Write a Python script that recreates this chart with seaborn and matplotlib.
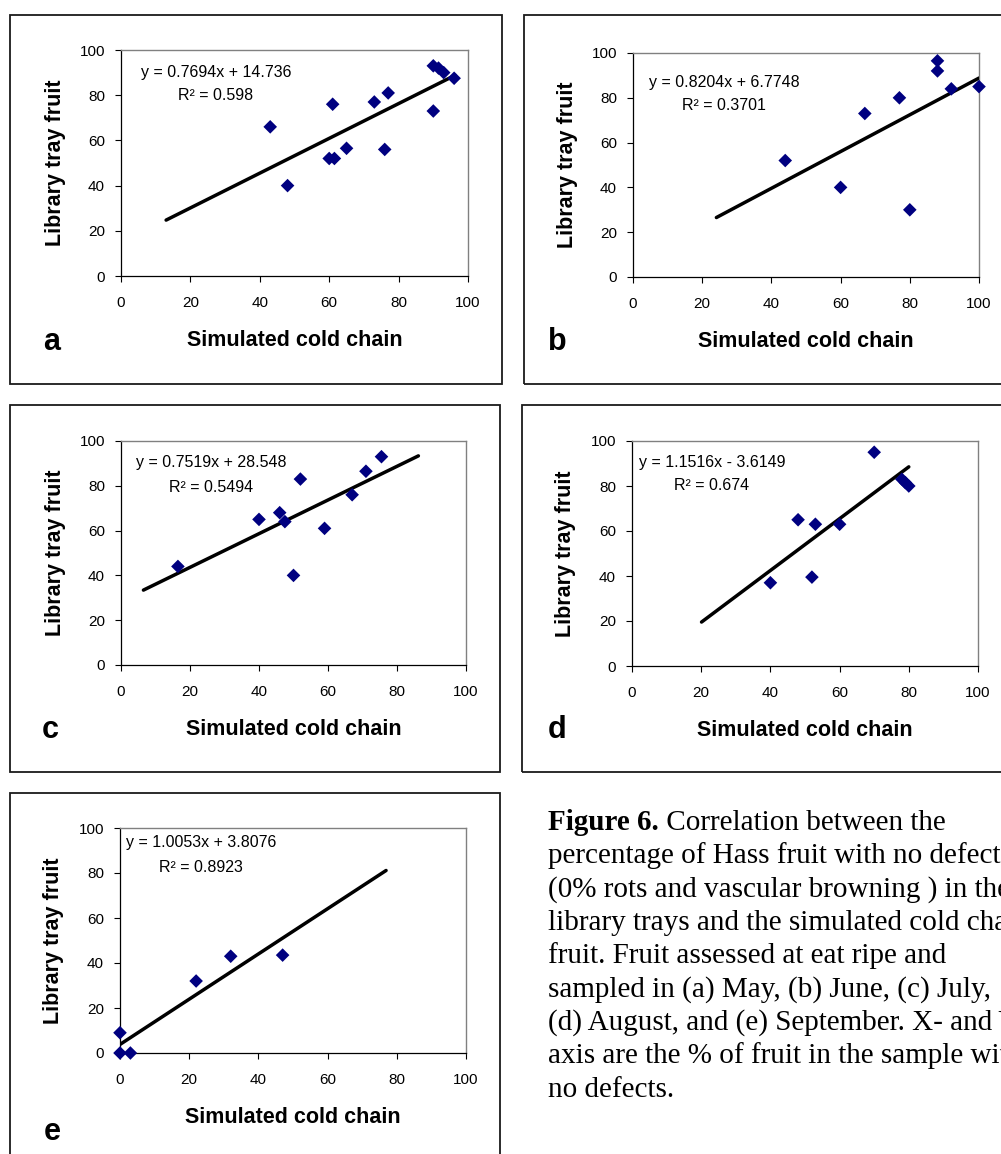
import numpy as np
import pandas as pd
import matplotlib
matplotlib.use("Agg")
import matplotlib.pyplot as plt
import seaborn as sns
from matplotlib.patches import Rectangle

sns.set_theme(style="white")
plt.rcParams["font.family"] = ["Liberation Sans", "DejaVu Sans"]

# ---------------- data ----------------
a_x = [43, 48, 61, 60, 61.5, 65, 73, 77, 76, 90, 90, 91.5, 93, 96]
a_y = [66, 40, 76, 52, 52, 56.5, 77, 81, 56, 73, 93, 92, 90, 87.5]
b_x = [44, 60, 67, 77, 80, 88, 88, 92, 100]
b_y = [52, 40, 73, 80, 30, 96.5, 92, 84, 85]
c_x = [16.5, 40, 46, 47.5, 50, 52, 59, 67, 71, 75.5]
c_y = [44, 65, 68, 64, 40, 83, 61, 76, 86.5, 93]
d_x = [40, 48, 53, 52, 60, 70, 78, 79, 80]
d_y = [37, 65, 63, 39.5, 63, 95, 83, 81.5, 80]
e_x = [0, 0, 3, 22, 32, 47]
e_y = [9, 0, 0, 32, 43, 43.5]

slopes = [0.7694, 0.8204, 0.7519, 1.1516, 1.0053]
intercepts = [14.736, 6.7748, 28.548, -3.6149, 3.8076]
trend_x_start = [13.0, 24.1, 6.5, 20.1, 0.0]
trend_x_end = [96.3, 100.0, 86.2, 80.0, 76.9]
eq_labels = ["y = 0.7694x + 14.736", "y = 0.8204x + 6.7748", "y = 0.7519x + 28.548",
             "y = 1.1516x - 3.6149", "y = 1.0053x + 3.8076"]
r2_labels = ["R\u00b2 = 0.598", "R\u00b2 = 0.3701", "R\u00b2 = 0.5494", "R\u00b2 = 0.674", "R\u00b2 = 0.8923"]
panel_letters = ["a", "b", "c", "d", "e"]
ticks = [0, 20, 40, 60, 80, 100]
x_title = "Simulated cold chain"
y_title = "Library tray fruit"
caption_lines = [
    "percentage of Hass fruit with no defects",
    "(0% rots and vascular browning ) in the",
    "library trays and the simulated cold chain",
    "fruit. Fruit assessed at eat ripe and",
    "sampled in (a) May, (b) June, (c) July,",
    "(d) August, and (e) September. X- and Y-",
    "axis are the % of fruit in the sample with",
    "no defects.",
]
caption_bold = "Figure 6."
caption_first = " Correlation between the"

xs_all = [a_x, b_x, c_x, d_x, e_x]
ys_all = [a_y, b_y, c_y, d_y, e_y]

# ---------------- layout (pixels) ----------------
W, H = 1001, 1154
axes_px = [(121, 50, 468, 276), (633, 53, 979, 277), (121, 441, 466, 665),
           (632, 441, 978, 666), (120, 828, 466, 1053)]
frame_px = [(10, 15, 502, 384), (524, 15, 1015, 384), (10, 405, 500, 772),
            (522, 405, 1015, 772), (10, 793, 500, 1165)]
letter_px = [(52, 350), (557, 350), (50, 738), (557, 738), (52, 1140)]
eq_px = [(216, 72, 95), (724, 82, 105), (211, 463, 488), (712, 462, 486), (201, 843, 867)]

fig = plt.figure(figsize=(W / 100, H / 100), dpi=100)
fig.patch.set_facecolor("white")


def fx(x):
    return x / W


def fy(y):
    return 1 - y / H


for i in range(5):
    x0, y0, x1, y1 = axes_px[i]
    ax = fig.add_axes([fx(x0), fy(y1), (x1 - x0) / W, (y1 - y0) / H])
    ax.set_facecolor("white")
    df = pd.DataFrame({"sim": xs_all[i], "lib": ys_all[i]})
    sns.scatterplot(data=df, x="sim", y="lib", marker="D", s=48, color="#000080",
                    edgecolor="none", linewidth=0, ax=ax, clip_on=False, zorder=4)
    tx = np.array([trend_x_start[i], trend_x_end[i]])
    ty = slopes[i] * tx + intercepts[i]
    sns.lineplot(x=tx, y=ty, ax=ax, color="black", linewidth=2.5, estimator=None,
                 sort=False, zorder=3)
    ax.set_xlim(0, 100)
    ax.set_ylim(0, 100)
    ax.set_xticks(ticks)
    ax.set_yticks(ticks)
    ax.set_xticklabels([str(t) for t in ticks])
    ax.set_yticklabels([str(t) for t in ticks])
    ax.tick_params(axis="both", direction="out", length=4, width=0.8, color="black",
                   labelsize=11, labelcolor="black", bottom=True, left=True)
    ax.tick_params(axis="y", pad=7.5)
    ax.tick_params(axis="x", pad=10.5)
    for s in ["left", "bottom"]:
        ax.spines[s].set_color("black")
        ax.spines[s].set_linewidth(0.9)
    for s in ["top", "right"]:
        ax.spines[s].set_color("#808080")
        ax.spines[s].set_linewidth(1.0)
    ax.set_xlabel("")
    ax.set_ylabel("")
    w = x1 - x0
    h = y1 - y0
    ax.text(0.5, -70 / h, x_title, transform=ax.transAxes, ha="center", va="baseline",
            fontsize=15.5, fontweight="bold", color="black")
    ax.text(-66 / w, 0.5, y_title, transform=ax.transAxes, ha="center", va="center",
            rotation=90, fontsize=15.5, fontweight="bold", color="black")

    # equation labels
    cx, ly1, ly2 = eq_px[i]
    fig.text(fx(cx), fy(ly1), eq_labels[i], ha="center", va="center", fontsize=11.5, color="black")
    fig.text(fx(cx), fy(ly2), r2_labels[i], ha="center", va="center", fontsize=11.5, color="black")

    # panel letter
    lx, ly = letter_px[i]
    fig.text(fx(lx), fy(ly), panel_letters[i], ha="center", va="baseline", fontsize=22,
             fontweight="bold", color="black")

    # frame
    fx0, fy0, fx1, fy1 = frame_px[i]
    rect = Rectangle((fx(fx0), fy(fy1)), (fx1 - fx0) / W, (fy1 - fy0) / H, fill=False,
                     edgecolor="#1a1a1a", linewidth=1.3, transform=fig.transFigure, figure=fig)
    fig.patches.append(rect)

# caption
serif = ["Liberation Serif", "DejaVu Serif"]
cap_x = 548
cap_y0 = 820
cap_dy = 33.4
base_off = 9.5
t1 = fig.text(fx(cap_x), fy(cap_y0 + base_off), caption_bold, ha="left", va="baseline",
              fontsize=21, fontweight="bold", family=serif, color="black")
fig.canvas.draw()
bb = t1.get_window_extent(renderer=fig.canvas.get_renderer())
fig.text(bb.x1 / W, fy(cap_y0 + base_off), caption_first, ha="left", va="baseline",
         fontsize=21, family=serif, color="black")
for k, line in enumerate(caption_lines, start=1):
    fig.text(fx(cap_x), fy(cap_y0 + base_off + k * cap_dy), line, ha="left", va="baseline",
             fontsize=21, family=serif, color="black")

fig.savefig("out.png", dpi=100, facecolor="white")
